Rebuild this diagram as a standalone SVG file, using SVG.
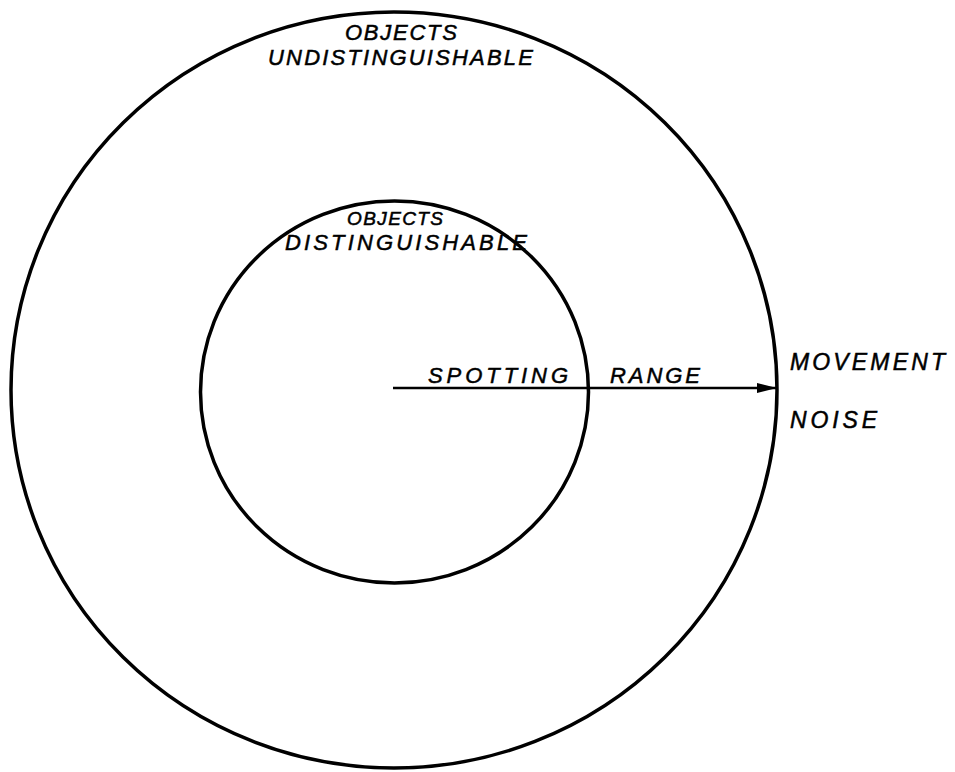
<svg xmlns="http://www.w3.org/2000/svg" width="955" height="772" viewBox="0 0 955 772">
<defs>
<style>
.ring{fill:none;stroke:#000;stroke-width:3.5}
.lbl{font-family:"Liberation Sans",Arial,sans-serif;font-style:italic;font-size:22px;fill:#000;stroke:#000;stroke-width:0.5}
.side{font-size:23px}
.sm{font-size:19px}
</style>
<marker id="ah" markerWidth="20" markerHeight="12" refX="20" refY="6" orient="auto" markerUnits="userSpaceOnUse">
<path d="M0,1 L20,6 L0,11 Z" fill="#000"/>
</marker>
</defs>
<rect width="955" height="772" fill="#fff"/>
<g id="outer-zone">
<ellipse class="ring" cx="394" cy="390" rx="383" ry="378"/>
<text class="lbl" x="345" y="40" textLength="112" lengthAdjust="spacing">OBJECTS</text>
<text class="lbl" x="268" y="65" textLength="265" lengthAdjust="spacing">UNDISTINGUISHABLE</text>
</g>
<g id="inner-zone">
<ellipse class="ring" cx="394.5" cy="392" rx="194" ry="191"/>
<text class="lbl sm" x="347" y="225" textLength="96" lengthAdjust="spacing">OBJECTS</text>
<text class="lbl" x="285" y="250" textLength="242" lengthAdjust="spacing">DISTINGUISHABLE</text>
</g>
<g id="connectors">
<line x1="393" y1="388" x2="777" y2="388" stroke="#000" stroke-width="2.5" marker-end="url(#ah)"/>
<text class="lbl" x="428" y="383" textLength="140" lengthAdjust="spacing">SPOTTING</text>
<text class="lbl" x="610" y="383" textLength="90" lengthAdjust="spacing">RANGE</text>
</g>
<g id="cues">
<text class="lbl side" x="790" y="370" textLength="155" lengthAdjust="spacing">MOVEMENT</text>
<text class="lbl side" x="790" y="428" textLength="87" lengthAdjust="spacing">NOISE</text>
</g>
</svg>
